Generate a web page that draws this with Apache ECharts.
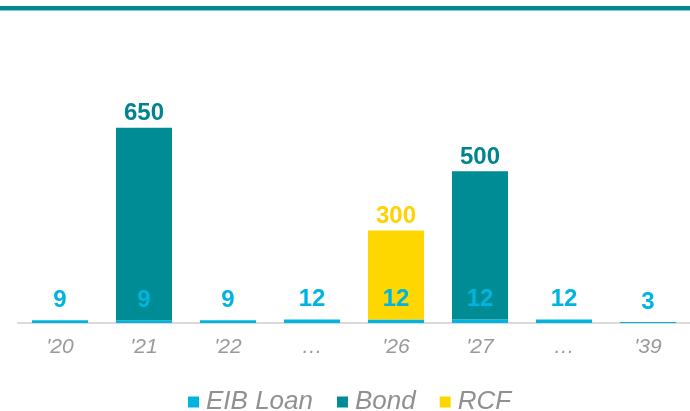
<!DOCTYPE html>
<html>
<head>
<meta charset="utf-8">
<script src="https://cdn.jsdelivr.net/npm/echarts@6/dist/echarts.min.js"></script>
<style>
html, body { margin: 0; padding: 0; background: #fff; }
#chart { width: 690px; height: 411px; }
</style>
</head>
<body>
<div id="chart"></div>
<script>
var years = ["'20", "'21", "'22", "\u2026", "'26", "'27", "\u2026", "'39"];
var eibLoan = [9, 9, 9, 12, 12, 12, 12, 3];
var bond = [null, 650, null, null, null, 500, null, null];
var rcf = [null, null, null, null, 300, null, null, null];

var myChart = echarts.init(document.getElementById('chart'));

var labelFont = 'Liberation Sans, Arial, sans-serif';

option = {
    animation: false,
    graphic: [
        { type: 'rect', left: 0, top: 6, shape: { width: 690, height: 4 }, style: { fill: '#00878F' } },
        { type: 'rect', left: 0, top: 10, shape: { width: 690, height: 1 }, style: { fill: '#8ACBCF' } }
    ],
    legend: {
        top: 384,
        left: 183,
        itemWidth: 11,
        itemHeight: 11,
        itemGap: 24,
        icon: 'rect',
        textStyle: {
            fontFamily: labelFont,
            fontStyle: 'italic',
            fontSize: 26,
            color: '#909090',
            padding: [0, 0, 0, 2]
        },
        data: ['EIB Loan', 'Bond', 'RCF']
    },
    grid: {
        left: 18,
        right: 0,
        top: 86,
        bottom: 88
    },
    xAxis: {
        type: 'category',
        data: years,
        axisLine: { lineStyle: { color: '#D9D9D9', width: 2 } },
        axisTick: { show: false },
        axisLabel: {
            margin: 14,
            fontFamily: labelFont,
            fontStyle: 'italic',
            fontSize: 21,
            color: '#999999'
        }
    },
    yAxis: {
        type: 'value',
        min: 0,
        max: 800,
        show: false,
        splitLine: { show: false }
    },
    series: [
        {
            name: 'EIB Loan',
            type: 'bar',
            stack: 'total',
            barWidth: 56,
            data: eibLoan,
            itemStyle: { color: '#00B4E0' },
            label: {
                show: true,
                position: 'top',
                distance: 8,
                fontFamily: labelFont,
                fontWeight: 'bold',
                fontSize: 24,
                color: '#00B4E0'
            }
        },
        {
            name: 'Bond',
            type: 'bar',
            stack: 'total',
            barWidth: 56,
            data: bond,
            itemStyle: { color: '#008C95' },
            label: {
                show: true,
                position: 'top',
                distance: 2,
                fontFamily: labelFont,
                fontWeight: 'bold',
                fontSize: 24,
                color: '#00858E'
            }
        },
        {
            name: 'RCF',
            type: 'bar',
            stack: 'total',
            barWidth: 56,
            data: rcf,
            itemStyle: { color: '#FFD700' },
            label: {
                show: true,
                position: 'top',
                distance: 2,
                fontFamily: labelFont,
                fontWeight: 'bold',
                fontSize: 24,
                color: '#FFD200'
            }
        }
    ]
};

myChart.setOption(option);
</script>
</body>
</html>
